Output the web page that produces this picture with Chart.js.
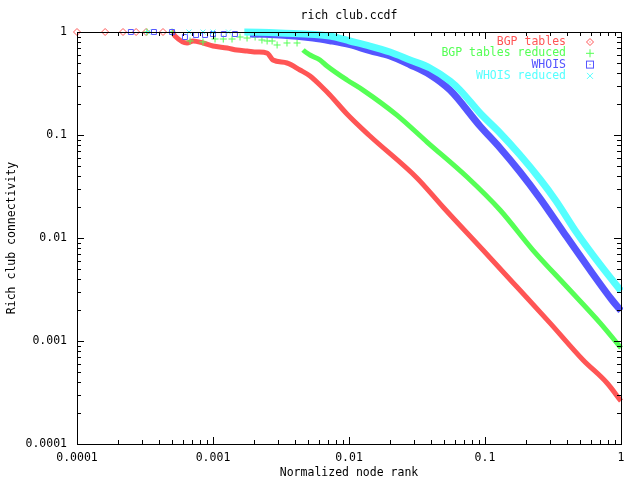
<!DOCTYPE html>
<html>
<head>
<meta charset="utf-8">
<script src="https://cdn.jsdelivr.net/npm/chart.js@4.4.1/dist/chart.umd.min.js"></script>
<style>
  html, body { margin: 0; padding: 0; background: #fff; }
  #wrap { width: 640px; height: 480px; }
</style>
</head>
<body>
<div id="wrap"><canvas id="chart" width="640" height="480"></canvas></div>
<script>
// values (normalized node rank -> rich club connectivity)
const bgpX = [1.0e-4, 1.61e-4, 2.18e-4, 2.72e-4, 3.22e-4, 4.29e-4, 5.0e-4, 5.25e-4, 6.44e-4, 7.13e-4, 8.44e-4, 1.0e-3, 1.27e-3, 1.5e-3, 1.78e-3, 2.11e-3, 2.5e-3, 2.76e-3, 3.5e-3, 4.36e-3, 5.17e-3, 6.44e-3, 7.24e-3, 9.66e-3, 0.01425, 0.0316, 0.0491, 0.0966, 0.172, 0.30, 0.526, 0.789, 1];
const bgpY = [1, 1, 1, 1, 1, 1, 1, 0.915, 0.782, 0.818, 0.782, 0.731, 0.699, 0.668, 0.654, 0.639, 0.625, 0.535, 0.5, 0.428, 0.374, 0.286, 0.245, 0.16, 0.0978, 0.0383, 0.0200, 0.00764, 0.00334, 0.0015, 6.54e-4, 3.91e-4, 2.61e-4];

const bgpRedX = [3.27e-4, 5.0e-4, 6.78e-4, 8.44e-4, 1.035e-3, 1.19e-3, 1.38e-3, 1.58e-3, 1.78e-3, 2.04e-3, 2.29e-3, 2.5e-3, 2.72e-3, 2.96e-3, 3.5e-3, 4.15e-3, 4.59e-3, 5.17e-3, 6.12e-3, 6.89e-3, 9.66e-3, 0.01268, 0.0225, 0.0375, 0.0738, 0.129, 0.225, 0.401, 0.701, 1];
const bgpRedY = [1, 1, 0.818, 0.80, 0.855, 0.855, 0.855, 0.894, 0.874, 0.894, 0.836, 0.818, 0.818, 0.748, 0.782, 0.782, 0.668, 0.598, 0.535, 0.468, 0.342, 0.273, 0.156, 0.0855, 0.0391, 0.0187, 0.00764, 0.00334, 0.0015, 8.55e-4];

const whoisX = [2.49e-4, 3.68e-4, 5.0e-4, 6.22e-4, 7.5e-4, 8.74e-4, 1.0e-3, 1.2e-3, 1.45e-3, 1.87e-3, 3.11e-3, 5.44e-3, 7.24e-3, 0.01016, 0.01425, 0.0200, 0.0281, 0.0394, 0.0553, 0.0918, 0.129, 0.181, 0.253, 0.381, 0.571, 0.859, 1];
const whoisY = [1, 1, 1, 0.894, 0.935, 0.935, 0.956, 0.956, 0.956, 0.956, 0.935, 0.874, 0.823, 0.753, 0.658, 0.585, 0.481, 0.385, 0.273, 0.1223, 0.0748, 0.0437, 0.0244, 0.01118, 0.00523, 0.0025, 0.00196];

const whoisRedX = [3.33e-4, 6.66e-4, 8.44e-4, 1.0e-3, 1.3e-3, 1.7e-3, 3.11e-3, 7.24e-3, 0.01016, 0.01425, 0.0200, 0.0281, 0.0394, 0.0553, 0.0655, 0.0918, 0.129, 0.181, 0.253, 0.333, 0.474, 0.724, 1];
const whoisRedY = [1, 1, 1, 1, 1, 1, 0.978, 0.915, 0.818, 0.731, 0.639, 0.535, 0.447, 0.334, 0.273, 0.1635, 0.1046, 0.0639, 0.0374, 0.0229, 0.01118, 0.00523, 0.00306];

const xTickValues = [1e-4, 1e-3, 1e-2, 1e-1, 1];
const xTickLabels = ["0.0001", "0.001", "0.01", "0.1", "1"];
const yTickValues = [1e-4, 1e-3, 1e-2, 1e-1, 1];
const yTickLabels = ["0.0001", "0.001", "0.01", "0.1", "1"];

const FONT = "'DejaVu Sans Mono', 'Liberation Mono', monospace";
const FSIZE = 11.5;

function zip(xs, ys) {
    return xs.map((x, i) => ({ x: x, y: ys[i] }));
}

// series: below "sparse" the markers are drawn alone, above it the band of points
function makeSet(label, xs, ys, color, style, radius, width, sparse, order) {
    return {
        label: label,
        data: zip(xs, ys),
        borderColor: color,
        backgroundColor: "rgba(0,0,0,0)",
        borderWidth: width,
        pointStyle: style,
        pointBorderColor: color,
        pointBorderWidth: 1,
        pointRadius: (ctx) => (ctx.raw && ctx.raw.x < sparse ? radius : 0),
        pointHoverRadius: 0,
        fill: false,
        cubicInterpolationMode: "monotone",
        order: order,
        clip: { left: 5, top: 5, right: 2, bottom: 2 },
        legendStyle: style,
        segment: {
            borderColor: (ctx) => (ctx.p0.parsed.x >= sparse ? color : "rgba(0,0,0,0)"),
        },
    };
}

const datasets = [
    makeSet("BGP tables", bgpX, bgpY, "#ff5555", "rectRot", 3.5, 5, 5.0e-4, 4),
    makeSet("BGP tables reduced", bgpRedX, bgpRedY, "#55ff55", "cross", 3.5, 5, 4.59e-3, 3),
    makeSet("WHOIS", whoisX, whoisY, "#5555ff", "rect", 3.5, 7, 1.87e-3, 2),
    makeSet("WHOIS reduced", whoisRedX, whoisRedY, "#55ffff", "crossRot", 3.5, 7, 1.7e-3, 1),
];

function drawMarker(ctx, style, x, y, color) {
    ctx.save();
    ctx.strokeStyle = color;
    ctx.fillStyle = color;
    ctx.lineWidth = 1;
    ctx.beginPath();
    if (style === "rectRot") {
        ctx.moveTo(x, y - 3.5); ctx.lineTo(x + 3.5, y); ctx.lineTo(x, y + 3.5); ctx.lineTo(x - 3.5, y); ctx.closePath();
        ctx.stroke();
        ctx.fillRect(x - 0.5, y - 0.5, 1, 1);
    } else if (style === "cross") {
        ctx.moveTo(x - 4, y); ctx.lineTo(x + 4, y); ctx.moveTo(x, y - 4); ctx.lineTo(x, y + 4);
        ctx.stroke();
    } else if (style === "rect") {
        ctx.strokeRect(x - 3.5, y - 3.5, 7, 7);
        ctx.fillRect(x - 0.5, y - 0.5, 1, 1);
    } else {
        ctx.moveTo(x - 3, y - 3); ctx.lineTo(x + 3, y + 3); ctx.moveTo(x + 3, y - 3); ctx.lineTo(x - 3, y + 3);
        ctx.stroke();
    }
    ctx.restore();
}

// border, inward ticks on all four sides, titles and the key
const gnuplotFrame = {
    id: "gnuplotFrame",
    afterDraw(chart) {
        const ctx = chart.ctx;
        const a = chart.chartArea;
        const xs = chart.scales.x;
        const ys = chart.scales.y;
        ctx.save();
        ctx.strokeStyle = "#000";
        ctx.lineWidth = 1;
        ctx.strokeRect(Math.round(a.left) + 0.5, Math.round(a.top) + 0.5, Math.round(a.right - a.left), Math.round(a.bottom - a.top));

        ctx.beginPath();
        for (let d = -4; d <= 0; d++) {
            for (let m = 1; m <= 9; m++) {
                const v = m * Math.pow(10, d);
                if (v > 1.0000001) break;
                const len = m === 1 ? 7 : 4;
                const px = Math.round(xs.getPixelForValue(v)) + 0.5;
                ctx.moveTo(px, a.bottom); ctx.lineTo(px, a.bottom - len);
                ctx.moveTo(px, a.top); ctx.lineTo(px, a.top + len);
                const py = Math.round(ys.getPixelForValue(v)) + 0.5;
                ctx.moveTo(a.left, py); ctx.lineTo(a.left + len, py);
                ctx.moveTo(a.right, py); ctx.lineTo(a.right - len, py);
            }
        }
        ctx.stroke();

        ctx.fillStyle = "#000";
        ctx.font = FSIZE + "px " + FONT;
        ctx.textAlign = "center";
        ctx.textBaseline = "middle";
        ctx.fillText("rich club.ccdf", (a.left + a.right) / 2, 16);
        ctx.fillText("Normalized node rank", (a.left + a.right) / 2, 473);
        ctx.save();
        ctx.translate(12, (a.top + a.bottom) / 2);
        ctx.rotate(-Math.PI / 2);
        ctx.fillText("Rich club connectivity", 0, 0);
        ctx.restore();

        ctx.textAlign = "right";
        chart.data.datasets.forEach((ds, i) => {
            const y = 42 + i * 11.3;
            ctx.fillStyle = ds.borderColor;
            ctx.fillText(ds.label, 566, y);
            drawMarker(ctx, ds.legendStyle, 590, y, ds.borderColor);
        });
        ctx.restore();
    },
};

new Chart(document.getElementById("chart"), {
    type: "line",
    data: { datasets: datasets },
    options: {
        responsive: false,
        animation: false,
        events: [],
        layout: { padding: { top: 32, right: 19, left: 0, bottom: 0 } },
        scales: {
            x: {
                type: "logarithmic",
                min: 1e-4,
                max: 1,
                afterFit: (scale) => { scale.height = 36; },
                afterBuildTicks: (scale) => { scale.ticks = xTickValues.map((v) => ({ value: v })); },
                grid: { display: false, drawTicks: false },
                border: { display: false },
                ticks: {
                    autoSkip: false,
                    maxRotation: 0,
                    padding: 7,
                    color: "#000",
                    font: { family: FONT, size: FSIZE },
                    callback: (value, index) => xTickLabels[index],
                },
            },
            y: {
                type: "logarithmic",
                min: 1e-4,
                max: 1,
                afterFit: (scale) => { scale.width = 77; },
                afterBuildTicks: (scale) => { scale.ticks = yTickValues.map((v) => ({ value: v })); },
                grid: { display: false, drawTicks: false },
                border: { display: false },
                ticks: {
                    autoSkip: false,
                    padding: 10,
                    color: "#000",
                    font: { family: FONT, size: FSIZE },
                    callback: (value, index) => yTickLabels[index],
                },
            },
        },
        plugins: {
            legend: { display: false },
            title: { display: false },
            tooltip: { enabled: false },
        },
    },
    plugins: [gnuplotFrame],
});
</script>
</body>
</html>
